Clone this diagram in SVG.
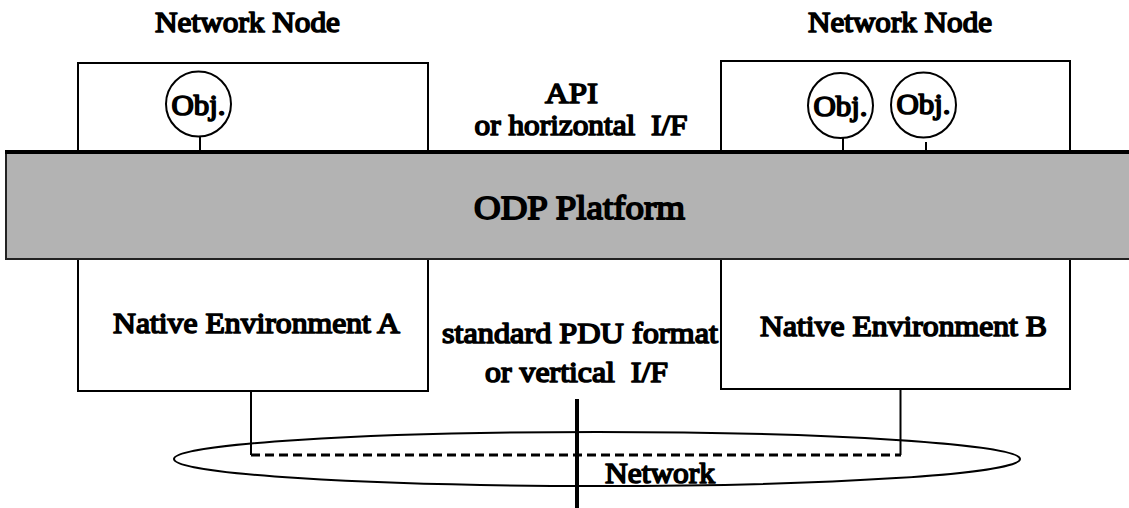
<svg xmlns="http://www.w3.org/2000/svg" width="1129" height="508" viewBox="0 0 1129 508">
<style>
.t{font-family:'Liberation Serif','Times New Roman',serif;font-weight:normal;font-size:29px;fill:#000;stroke:#000;stroke-width:1.6;stroke-linejoin:round;text-anchor:middle}
.big{font-size:34px;stroke-width:1.8}
.box{fill:#fff;stroke:#000;stroke-width:2}
.obj{fill:#fff;stroke:#000;stroke-width:2}
.ln{stroke:#000;stroke-width:2;fill:none}
</style>
<rect width="1129" height="508" fill="#fff"/>
<g id="title-left"><text class="t" x="247.5" y="32" textLength="185" lengthAdjust="spacingAndGlyphs">Network Node</text></g>
<g id="title-right"><text class="t" x="900" y="32" textLength="184" lengthAdjust="spacingAndGlyphs">Network Node</text></g>
<g id="node-left">
<rect class="box" x="78" y="63" width="350" height="92"/>
</g>
<g id="node-right">
<rect class="box" x="721" y="61" width="349" height="94"/>
</g>
<g id="obj-left">
<circle class="obj" cx="198.5" cy="104" r="32.5"/>
<text class="t" x="198.5" y="115" textLength="54" lengthAdjust="spacingAndGlyphs">Obj.</text>
</g>
<g id="obj-right-1">
<circle class="obj" cx="840.5" cy="105.5" r="32.5"/>
<text class="t" x="840.5" y="116" textLength="54" lengthAdjust="spacingAndGlyphs">Obj.</text>
</g>
<g id="obj-right-2">
<circle class="obj" cx="923.5" cy="105" r="32.5"/>
<text class="t" x="923.5" y="114" textLength="54" lengthAdjust="spacingAndGlyphs">Obj.</text>
</g>
<g id="api-label">
<text class="t" x="571.5" y="103" textLength="53" lengthAdjust="spacingAndGlyphs">API</text>
<text class="t" x="581" y="135" textLength="213" lengthAdjust="spacingAndGlyphs" xml:space="preserve">or horizontal  I/F</text>
</g>
<g id="env-a">
<rect class="box" x="78" y="256" width="350" height="135"/>
<text class="t" x="256.5" y="333" textLength="287" lengthAdjust="spacingAndGlyphs">Native Environment A</text>
</g>
<g id="env-b">
<rect class="box" x="721" y="256" width="349" height="133"/>
<text class="t" x="903.5" y="336" textLength="287" lengthAdjust="spacingAndGlyphs">Native Environment B</text>
</g>
<g id="odp-platform">
<rect x="6" y="152" width="1130" height="107" fill="#b3b3b3" stroke="#222" stroke-width="2"/>
<line x1="5" y1="152" x2="1129" y2="152" stroke="#000" stroke-width="4"/>
<text class="t big" x="579.5" y="219" textLength="211" lengthAdjust="spacingAndGlyphs">ODP Platform</text>
</g>
<g id="pdu-label">
<text class="t" x="580" y="343" textLength="276" lengthAdjust="spacingAndGlyphs">standard PDU format</text>
<text class="t" x="576.5" y="382" textLength="183" lengthAdjust="spacingAndGlyphs" xml:space="preserve">or vertical  I/F</text>
</g>
<g id="network">
<ellipse cx="597" cy="459" rx="423" ry="27" fill="none" stroke="#000" stroke-width="2"/>
<text class="t" x="660" y="483" textLength="110" lengthAdjust="spacingAndGlyphs">Network</text>
</g>
<g id="connectors">
<line class="ln" x1="200" y1="137" x2="200" y2="150"/>
<line class="ln" x1="843" y1="138" x2="843" y2="150"/>
<line class="ln" x1="926" y1="142" x2="926" y2="150"/>
<line class="ln" x1="251" y1="391" x2="251" y2="455"/>
<line class="ln" x1="900.5" y1="389" x2="900.5" y2="455"/>
<line x1="251" y1="455" x2="901" y2="455" stroke="#000" stroke-width="3" stroke-dasharray="9 5"/>
<line x1="577" y1="399" x2="577" y2="508" stroke="#000" stroke-width="4"/>
</g>
</svg>
